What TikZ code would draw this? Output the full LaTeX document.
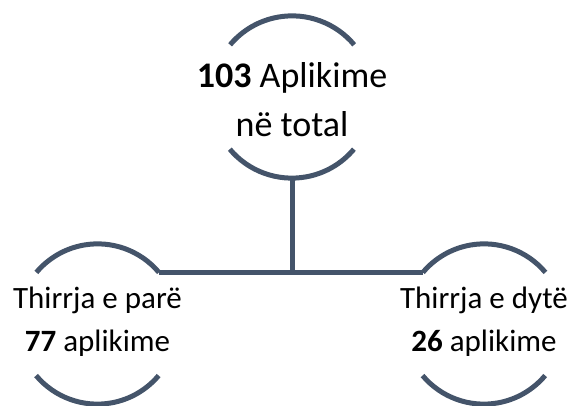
\documentclass[tikz,border=0pt]{standalone}
\usepackage{fontspec}
\setmainfont{Carlito}
\definecolor{slate}{HTML}{44546A}
\begin{document}
\begin{tikzpicture}[x=1pt,y=1pt,
  arcline/.style={line width=5pt, draw=slate},
  ring/.style={circle, minimum size=#1, inner sep=0pt, draw=none},
  toptext/.style={anchor=base, inner sep=0pt, font=\fontsize{36}{43}\selectfont},
  subtext/.style={anchor=base, inner sep=0pt, font=\fontsize{31}{37}\selectfont}]
\useasboundingbox (0,0) rectangle (574,406);
% circle frames
\node[ring=162pt] (top) at (292,309) {};
\node[ring=160pt] (left) at (97.5,82) {};
\node[ring=160pt] (right) at (484,82) {};
\draw[arcline] (top.40) arc[start angle=40, end angle=140, radius=81pt];
\draw[arcline] (top.220) arc[start angle=220, end angle=320, radius=81pt];
\draw[arcline] (left.40) arc[start angle=40, end angle=140, radius=80pt];
\draw[arcline] (left.220) arc[start angle=220, end angle=320, radius=80pt];
\draw[arcline] (right.40) arc[start angle=40, end angle=140, radius=80pt];
\draw[arcline] (right.220) arc[start angle=220, end angle=320, radius=80pt];
% connectors
\coordinate (junction) at (top.south |- left.40);
\draw[arcline] (top.south) -- (junction);
\draw[arcline] (left.40) -- (right.140);
% texts
\node[toptext] (t1) at (292,318) {\textbf{103} Aplikime};
\node[toptext] (t2) at (292,269) {në total};
\node[subtext] (l1) at (97.5,97) {Thirrja e parë};
\node[subtext] (l2) at (97.5,54) {\textbf{77} aplikime};
\node[subtext] (r1) at (484,97) {Thirrja e dytë};
\node[subtext] (r2) at (484,54) {\textbf{26} aplikime};
\end{tikzpicture}
\end{document}
